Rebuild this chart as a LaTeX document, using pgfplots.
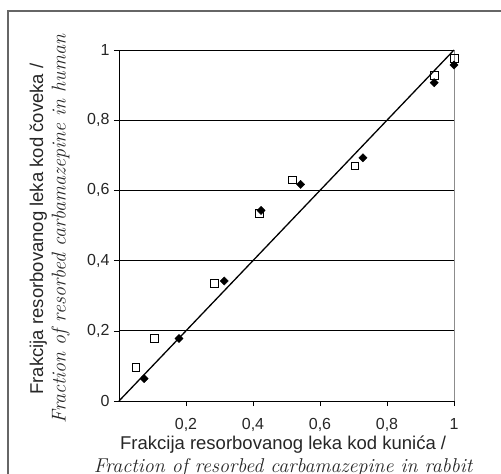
\documentclass[border=0pt]{standalone}
\usepackage{fontspec}
\setsansfont{Liberation Sans}
\usepackage{pgfplots}
\pgfplotsset{compat=1.18}
\begin{document}
\begin{tikzpicture}
\begin{axis}[
  scale only axis, width=335pt, height=351pt,
  xmin=0, xmax=1, ymin=0, ymax=1,
  axis x line*=bottom, axis y line*=left,
  axis line style={black, line width=0.8pt},
  xtick={0.2,0.4,0.6,0.8,1}, ytick={0,0.2,0.4,0.6,0.8,1},
  tick align=outside, major tick length=5pt,
  tick style={black, line width=0.6pt},
  ymajorgrids, grid style={black, line width=0.7pt},
  /pgf/number format/assume math mode=true,
  /pgf/number format/use comma,
  ticklabel style={font=\sffamily\fontsize{16}{18}\selectfont, color=black!85},
  xticklabel style={yshift=-9pt},
  yticklabel style={xshift=-1pt},
  xlabel={\sffamily Frakcija resorbovanog leka kod kunića /\\ \rmfamily\itshape\fontsize{20}{22}\selectfont Fraction of resorbed carbamazepine in rabbit},
  ylabel={\sffamily Frakcija resorbovanog leka kod čoveka /\\ \rmfamily\itshape\fontsize{20}{23}\selectfont Fraction of resorbed carbamazepine in human},
  label style={font=\fontsize{18.5}{22.5}\selectfont, align=center, color=black!85, inner sep=0pt},
  xlabel style={at={(axis description cs:0.49,0)}, anchor=north, yshift=-35pt},
  ylabel style={at={(axis description cs:0,0.49)}, anchor=south, yshift=49pt},
  clip=false,
]
\draw[black!45, line width=0.8pt] (axis cs:1,0) -- (axis cs:1,1);
\addplot[black, line width=1.3pt] coordinates {(0,0) (1,1)};
\addplot[only marks, mark=square, mark size=3.9pt, mark options={black, line width=0.6pt, fill=white}] coordinates {
(0.050,0.095) (0.105,0.179) (0.284,0.335) (0.419,0.535) (0.517,0.630) (0.704,0.670) (0.941,0.929) (1.0,0.976)
};
\addplot[only marks, mark=square*, mark size=2.9pt, mark options={black, rotate=45}] coordinates {
(0.075,0.064) (0.179,0.178) (0.314,0.342) (0.424,0.543) (0.542,0.617) (0.728,0.693) (0.941,0.907) (1.0,0.957)
};
\end{axis}
\draw[black!60, line width=1.3pt] (-111pt,-80pt) -- (-111pt,390pt) -- (390pt,390pt);
\pgfresetboundingbox
\path (-119pt,-73pt) rectangle (382pt,401pt);
\end{tikzpicture}
\end{document}
